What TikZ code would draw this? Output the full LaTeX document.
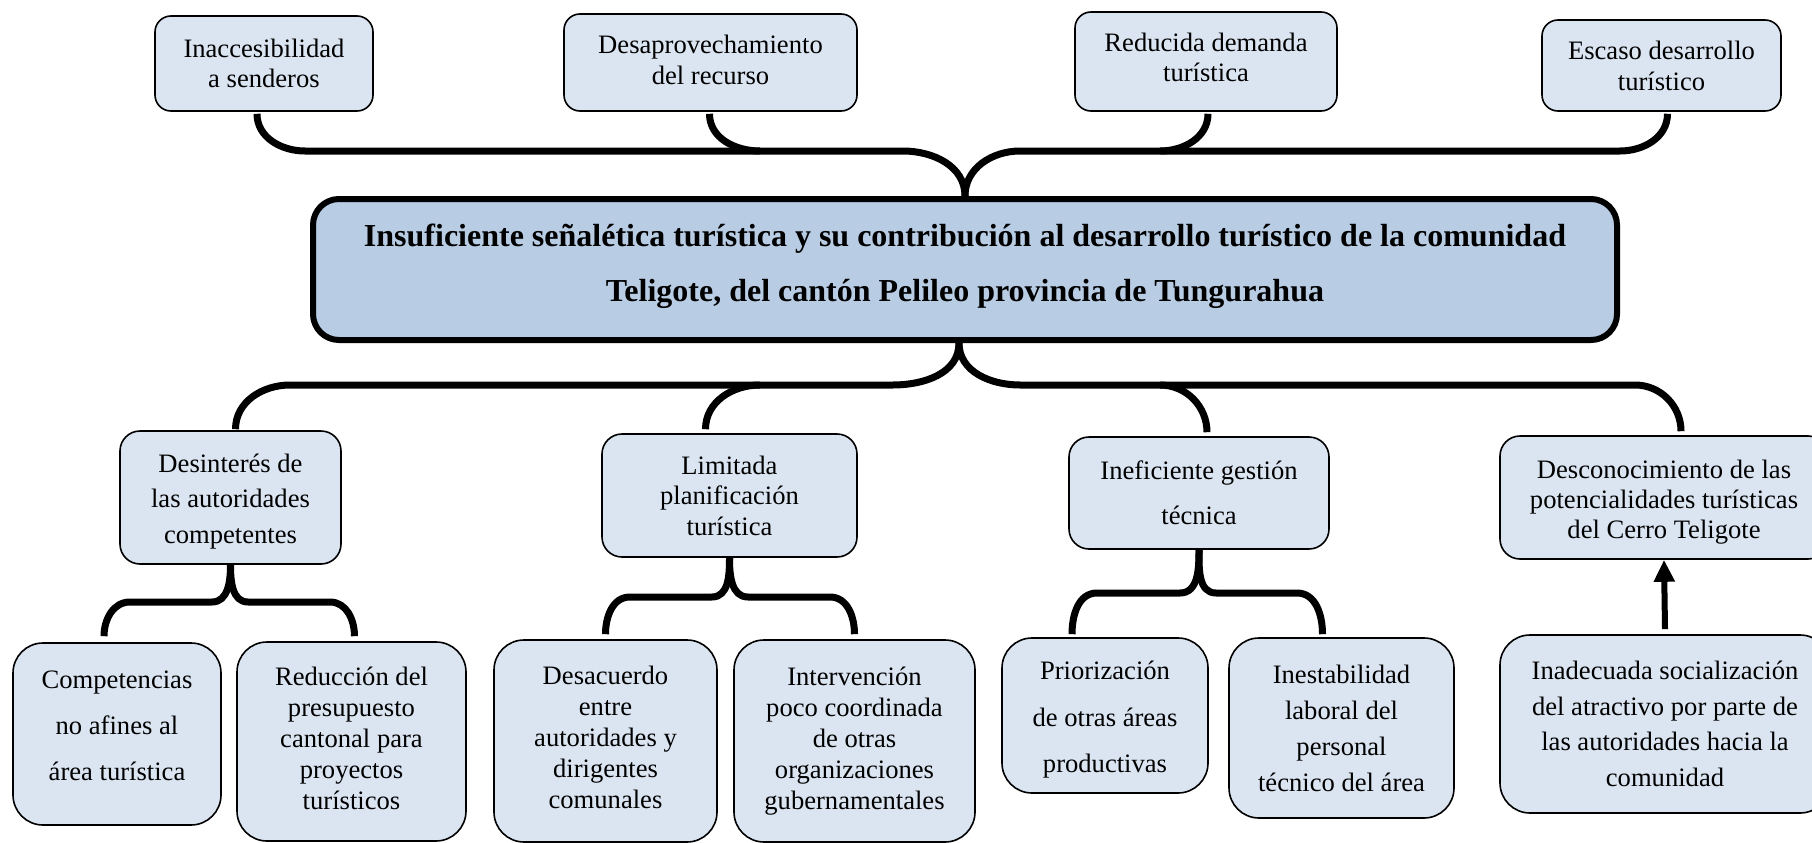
\documentclass[tikz,border=0pt]{standalone}
\usepackage{fontspec}
\setmainfont{Liberation Serif}
\usetikzlibrary{arrows.meta,calc}
\definecolor{boxfill}{HTML}{DBE5F1}
\definecolor{mainfill}{HTML}{B8CCE4}
\newcommand{\fsz}[1]{\fontsize{26.6}{#1}\selectfont}
\begin{document}
\begin{tikzpicture}[x=1pt,y=-1pt,
 sbox/.style={draw=black, fill=boxfill, line width=1.6pt, align=center, inner sep=0pt, rounded corners=16pt},
 bbox/.style={sbox, rounded corners=30pt},
 txt/.style={align=center, inner sep=0pt},
 brace/.style={line width=7pt, line cap=butt, line join=round},
 arr/.style={line width=6pt, -{Triangle[width=20pt,length=22pt]}}
]
\useasboundingbox (0,0) rectangle (1812,843);
\clip (0,0) rectangle (1812,843);

% top row
\node[sbox, minimum width=218pt, minimum height=95pt, font=\fsz{30}] (t1) at (264,63.5) {Inaccesibilidad\\a senderos};
\node[sbox, minimum width=293pt, minimum height=97pt] (t2) at (710.5,62.5) {};
\node[txt, font=\fsz{31}] (t2t) at ($(t2.center)+(0,-2.5)$) {Desaprovechamiento\\del recurso};
\node[sbox, minimum width=262pt, minimum height=99pt] (t3) at (1206,61.5) {};
\node[txt, font=\fsz{30}] (t3t) at ($(t3.center)+(0,-4.5)$) {Reducida demanda\\turística};
\node[sbox, minimum width=239pt, minimum height=91pt, font=\fsz{31}] (t4) at (1661.5,65.5) {Escaso desarrollo\\turístico};

% main
\node[draw=black, fill=mainfill, line width=6pt, rounded corners=26pt, minimum width=1304pt, minimum height=141pt, inner sep=0pt] (main) at (965,269.5) {};
\node[txt, font=\fontsize{32}{55}\selectfont\bfseries] (maint) at ($(main.center)+(0,-3.5)$) {Insuficiente señalética turística y su contribución al desarrollo turístico de la comunidad\\Teligote, del cantón Pelileo provincia de Tungurahua};

% middle row
\node[sbox, rounded corners=20pt, minimum width=221pt, minimum height=133pt] (des) at (230.5,497.5) {};
\node[txt, font=\fsz{35.5}] (dest) at ($(des.center)+(0,4)$) {Desinterés de\\las autoridades\\competentes};
\node[sbox, rounded corners=20pt, minimum width=255pt, minimum height=123pt, font=\fsz{30.5}] (lim) at (729.5,495.5) {Limitada\\planificación\\turística};
\node[sbox, rounded corners=20pt, minimum width=260pt, minimum height=112pt, font=\fsz{45}] (inef) at (1199,493) {Ineficiente gestión\\técnica};
\node[sbox, rounded corners=20pt, minimum width=328pt, minimum height=123pt] (desc) at (1664,497.5) {};
\node[txt, font=\fsz{30}] (desct) at ($(desc.center)+(0,5)$) {Desconocimiento de las\\potencialidades turísticas\\del Cerro Teligote};

% bottom row
\node[bbox, minimum width=208pt, minimum height=182pt] (c1) at (117,734) {};
\node[txt, font=\fsz{46}] (c1t) at ($(c1.center)+(0,-8)$) {Competencias\\no afines al\\área turística};
\node[bbox, minimum width=229pt, minimum height=199pt] (c2) at (351.5,741.5) {};
\node[txt, font=\fsz{31}] (c2t) at ($(c2.center)+(0,-3.5)$) {Reducción del\\presupuesto\\cantonal para\\proyectos\\turísticos};
\node[bbox, minimum width=223pt, minimum height=202pt] (c3) at (605.5,741) {};
\node[txt, font=\fsz{31}] (c3t) at ($(c3.center)+(0,-3.5)$) {Desacuerdo\\entre\\autoridades y\\dirigentes\\comunales};
\node[bbox, minimum width=241pt, minimum height=202pt, font=\fsz{31}] (c4) at (854.5,741) {Intervención\\poco coordinada\\de otras\\organizaciones\\gubernamentales};
\node[bbox, minimum width=206pt, minimum height=155pt] (c5) at (1105,715.5) {};
\node[txt, font=\fsz{46.5}] (c5t) at ($(c5.center)+(0,4.5)$) {Priorización\\de otras áreas\\productivas};
\node[bbox, minimum width=225pt, minimum height=180pt, font=\fsz{36}] (c6) at (1341.5,728) {Inestabilidad\\laboral del\\personal\\técnico del área};
\node[bbox, minimum width=330pt, minimum height=178pt, font=\fsz{35.7}] (c7) at (1665,724) {Inadecuada socialización\\del atractivo por parte de\\las autoridades hacia la\\comunidad};

% top brace
\draw[brace] ($(t1.south)+(-7,2)$) to[out=-90,in=180] (305,151) -- (903,151) to[out=0,in=90] (main.north);
\draw[brace] (main.north) to[out=90,in=180] (1020,151) -- (1620,151) to[out=0,in=-90] ($(t4.south)+(6,2)$);
\draw[brace] ($(t2.south)+(-1,2)$) to[out=-90,in=180] (760,151);
\draw[brace] ($(t3.south)+(2,2)$) to[out=-90,in=0] (1160,151);

% bottom brace from main
\draw[brace] ($(main.south)+(-6,0)$) to[out=-90,in=0] (893,385) -- (290,385) to[out=180,in=90] ($(des.north)+(5,-1)$);
\draw[brace] (760,385) to[out=180,in=90] ($(lim.north)+(-24,-4)$);
\draw[brace] ($(main.south)+(-6,0)$) to[out=-90,in=180] (1020,385) -- (1635,385) to[out=0,in=90] ($(desc.north)+(17,-4)$);
\draw[brace] (1160,385) to[out=0,in=90] ($(inef.north)+(8,-4)$);

% lower braces
\draw[brace] (des.south) to[out=-90,in=0] (212,602) -- (130,602) to[out=180,in=90] ($(c1.north)+(-13,-6)$);
\draw[brace] (des.south) to[out=-90,in=180] (248,602) -- (330,602) to[out=0,in=90] ($(c2.north)+(3,-5)$);
\draw[brace] (lim.south) to[out=-90,in=0] (712,597) -- (630,597) to[out=180,in=90] ($(c3.north)+(0,-5)$);
\draw[brace] (lim.south) to[out=-90,in=180] (748,597) -- (830,597) to[out=0,in=90] ($(c4.north)+(0,-5)$);
\draw[brace] (inef.south) to[out=-90,in=0] (1180,593) -- (1097,593) to[out=180,in=90] ($(c5.north)+(-33,-3)$);
\draw[brace] (inef.south) to[out=-90,in=180] (1216,593) -- (1297,593) to[out=0,in=90] ($(c6.north)+(-19,-3)$);

% arrow
\draw[arr] ($(c7.north)+(0,-5)$) -- (desc.south);
\end{tikzpicture}
\end{document}
